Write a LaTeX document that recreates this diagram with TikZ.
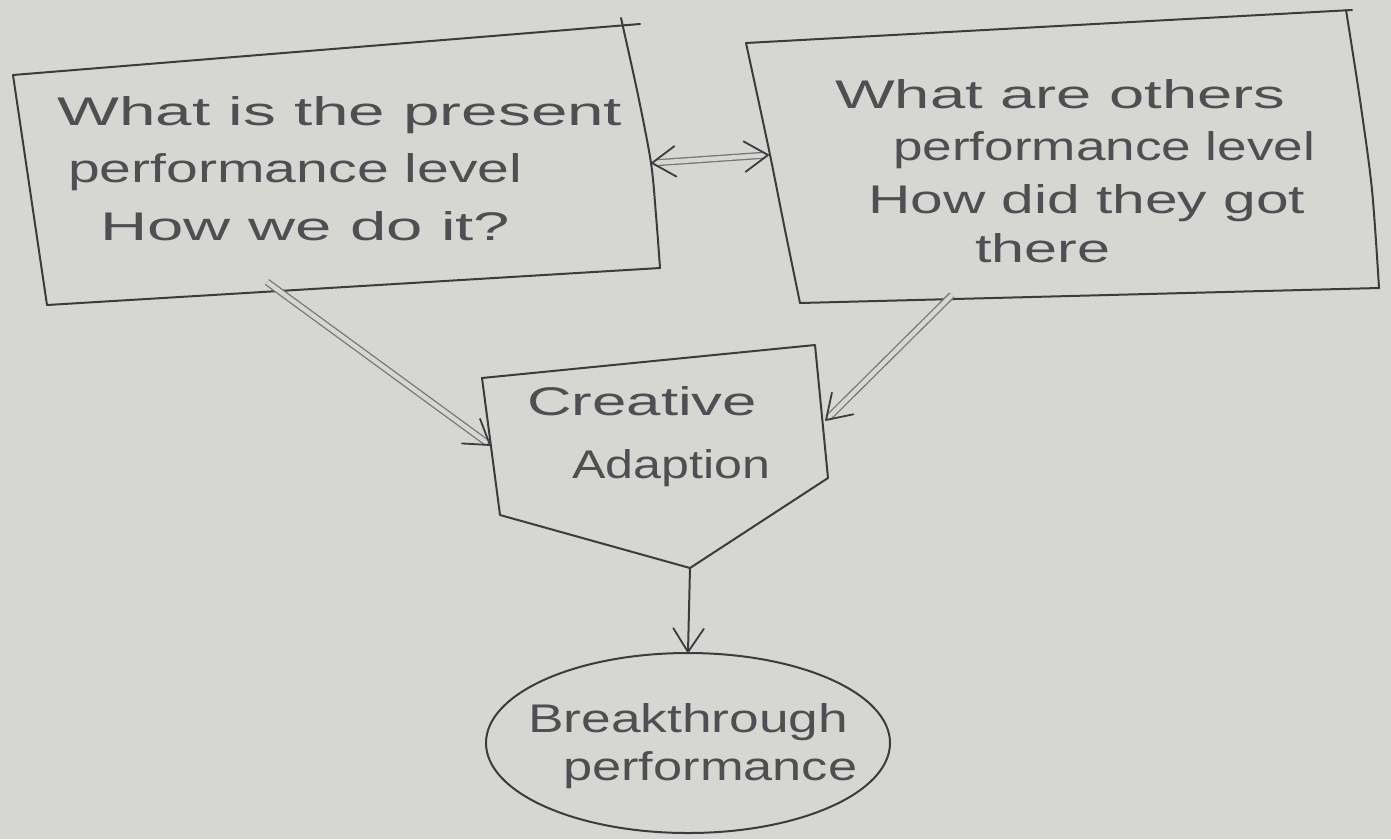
\documentclass[tikz,border=0pt]{standalone}
\usepackage{graphicx}
\usepackage{fontspec}
\setmainfont{Liberation Sans}
\usetikzlibrary{calc,shapes.geometric}
\definecolor{paper}{RGB}{214,214,210}
\definecolor{pen}{RGB}{62,58,64}
% stretch one handwritten line to a given width, keeping its height
\newcommand{\handline}[2]{\resizebox{#1pt}{\height}{#2}}
% open V-shaped arrow head at #2, pointing away from #1
\newcommand{\barbs}[2]{\draw[barb] ($(#2)!28pt!33:(#1)$) -- (#2) -- ($(#2)!28pt!-33:(#1)$);}

\begin{document}
\begin{tikzpicture}[x=1pt,y=-1pt,
  stroke/.style={draw=pen, line width=2pt, line join=round, line cap=round},
  txt/.style={text=pen!90, font=\fontsize{40}{48}\selectfont, inner sep=0pt, anchor=base west},
  dbl/.style={draw=pen!70, line width=1.3pt, double=paper, double distance=4.5pt},
  barb/.style={draw=pen, line width=1.8pt, line cap=round, line join=round}]

\fill[paper] (0,0) rectangle (1391,839);
\useasboundingbox (0,0) rectangle (1391,839);

% left box: present performance level
\draw[stroke] (13,75) -- (640,24);
\draw[stroke] plot[smooth] coordinates {(621,18) (638,95) (651,163) (656,215) (660,268)};
\draw[stroke] (660,268) -- (47,305) -- (13,75);

% right box: others' performance level
\draw[stroke] (746,43) -- (1352,10);
\draw[stroke] plot[smooth] coordinates {(1346,10) (1360,100) (1372,190) (1379,288)};
\draw[stroke] (1379,288) -- (800,303);
\draw[stroke] plot[smooth] coordinates {(746,43) (769,150) (785,230) (800,303)};

% creative adaption pentagon
\draw[stroke] (482,378) -- (815,345) -- (828,478) -- (690,568) -- (500,515) -- cycle;

% breakthrough ellipse
\node[ellipse, stroke, minimum width=404pt, minimum height=180pt, inner sep=0pt] (bt) at (688,743) {};

% connector end points on the hand-drawn outlines
\coordinate (pL) at (652,163);
\coordinate (pR) at (768,155);
\coordinate (sL) at (267,282);
\coordinate (eL) at (490,445);
\coordinate (sR) at (952,295);
\coordinate (eR) at (826,420);
\coordinate (tip) at (690,568);

% two-way comparison arrow
\draw[dbl, shorten <=4pt, shorten >=4pt] (pL) -- (pR);
\barbs{pR}{pL}
\barbs{pL}{pR}

% inputs to creative adaption
\draw[dbl, shorten >=3pt] (sL) -- (eL);
\barbs{sL}{eL}
\draw[dbl, shorten >=3pt] (sR) -- (eR);
\barbs{sR}{eR}

% output to breakthrough performance
\draw[stroke] (tip) -- (bt.north);
\barbs{tip}{bt.north}

% texts
\node[txt] (l1) at (57,125) {\handline{565}{What is the present}};
\node[txt] (l2) at (68,182) {\handline{454}{performance level}};
\node[txt] (l3) at (100,240) {\handline{410}{How we do it?}};
\node[txt] (r1) at (835,108) {\handline{450}{What are others}};
\node[txt] (r2) at (893,160) {\handline{422}{performance level}};
\node[txt] (r3) at (868,213) {\handline{437}{How did they got}};
\node[txt] (r4) at (975,262) {\handline{135}{there}};
\node[txt] (c1) at (527,415) {\handline{230}{Creative}};
\node[txt] (c2) at (572,478) {\handline{198}{Adaption}};
\node[txt] (b1) at (528,732) {\handline{320}{Breakthrough}};
\node[txt] (b2) at (563,780) {\handline{294}{performance}};
\end{tikzpicture}
\end{document}
